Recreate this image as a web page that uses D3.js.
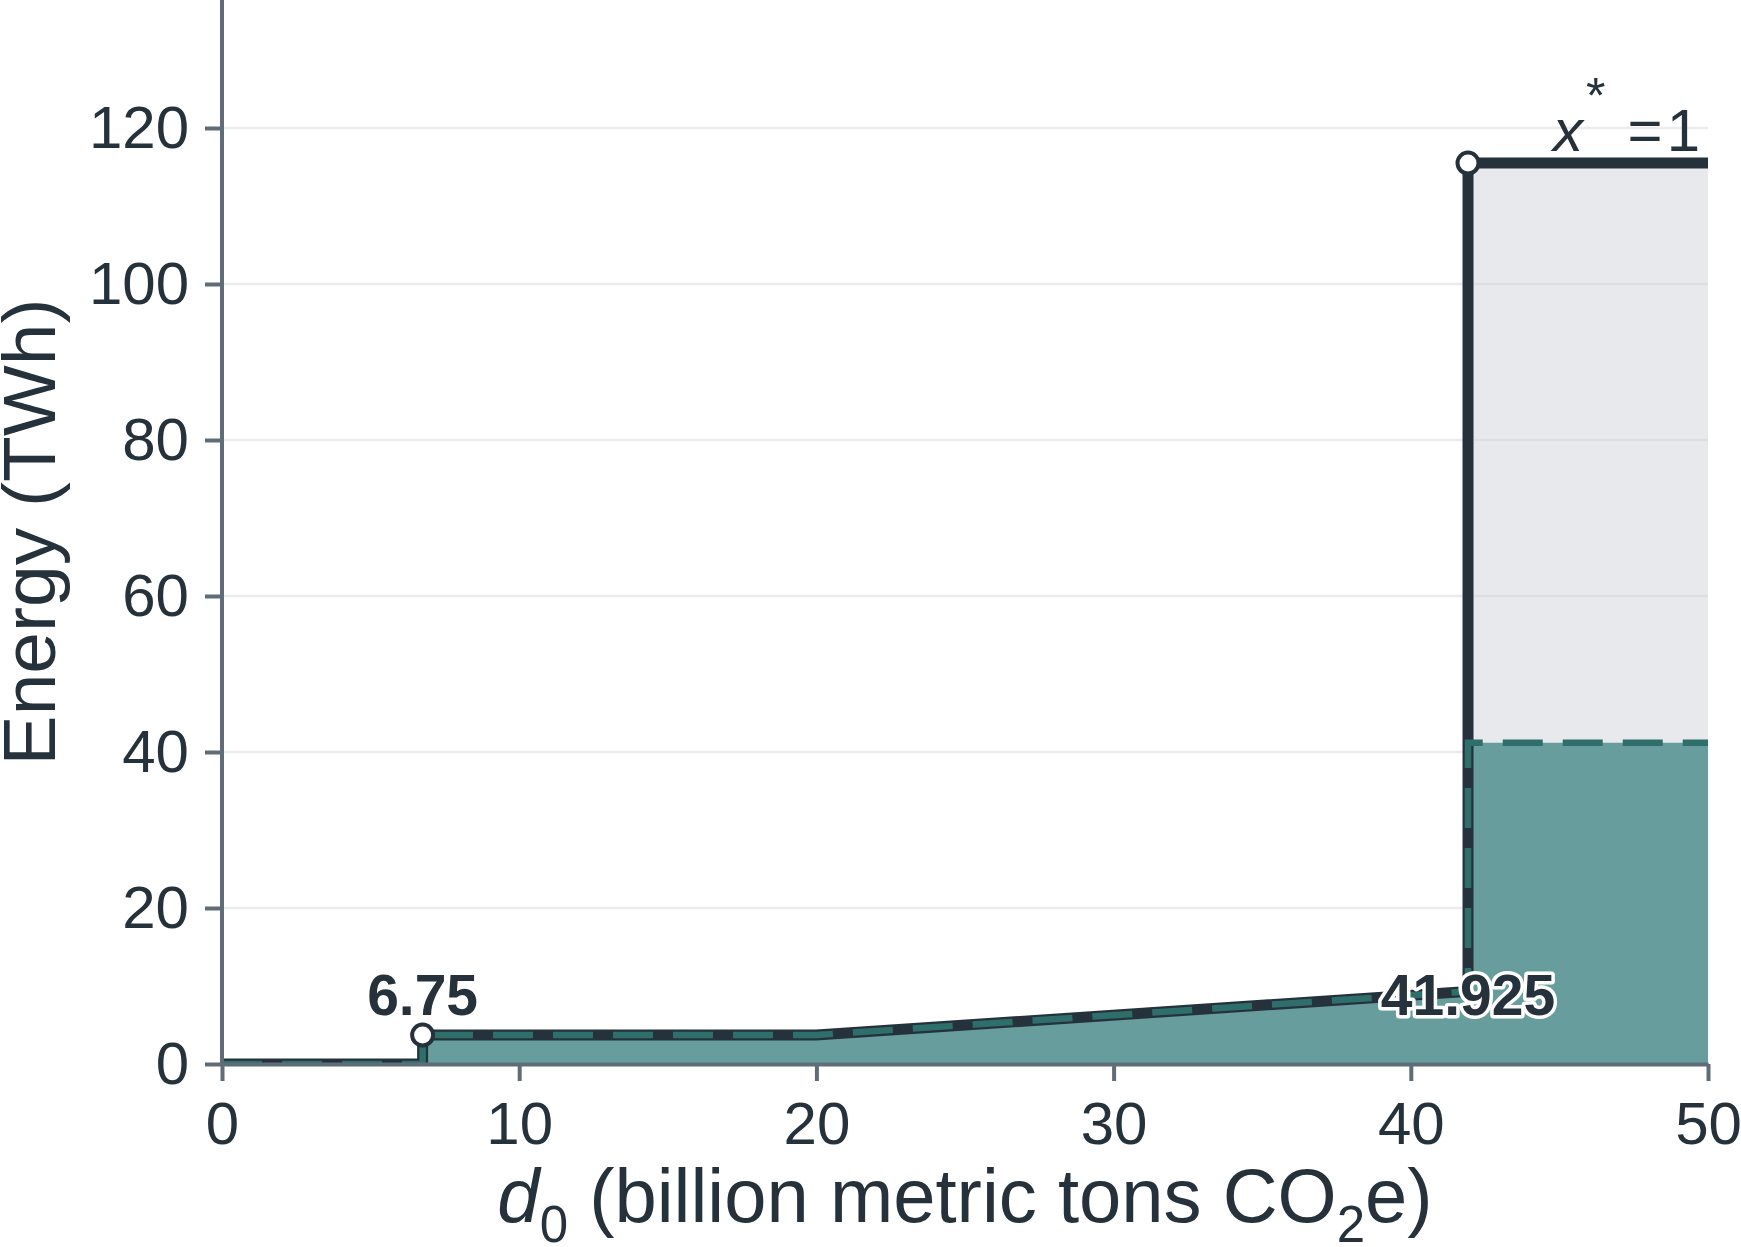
<!DOCTYPE html>
<html>
<head>
<meta charset="utf-8">
<script src="https://cdn.jsdelivr.net/npm/d3@7"></script>
<style>
  body { margin: 0; background: #fff; }
  svg { display: block; font-family: "Liberation Sans", Arial, sans-serif; }
</style>
</head>
<body>
<div id="chart"></div>
<script>
// Step curves
const xBreaks = [0, 6.75, 6.75, 20, 41.925, 41.925, 50];
const energyUpper = [0, 0, 3.72, 3.72, 9.3, 115.5, 115.5];   // solid dark line
const energyFilled = [0, 0, 3.72, 3.72, 9.3, 41.2, 41.2];    // dashed teal line

// Open markers and their labels
const markerX = [6.75, 41.925];
const markerY = [3.72, 115.5];
const labelText = ["6.75", "41.925"];
const labelY = [3.72, 3.72];

const xTicks = [0, 10, 20, 30, 40, 50];
const yTicks = [0, 20, 40, 60, 80, 100, 120];

const width = 1741, height = 1247;
const left = 222, right = 1708, bottom = 1064;

const dark = "#25323b";
const axisColor = "#5e6d77";

const svg = d3.select("#chart").append("svg")
    .attr("width", width)
    .attr("height", height);

const x = d3.scaleLinear().domain([0, 50]).range([left, right]);
const y = d3.scaleLinear().domain([0, 120]).range([bottom, bottom - 936]);

// clip to the plot area
svg.append("defs").append("clipPath")
    .attr("id", "plotClip")
    .append("rect")
    .attr("x", left).attr("y", 0)
    .attr("width", right - left).attr("height", bottom);

const rows = xBreaks.map((d, i) => ({ x: d, upper: energyUpper[i], filled: energyFilled[i] }));

// grid
svg.append("g")
    .selectAll("line")
    .data(yTicks.filter(d => d > 0))
    .join("line")
    .attr("x1", left).attr("x2", right)
    .attr("y1", d => y(d)).attr("y2", d => y(d))
    .attr("stroke", "#ebebeb")
    .attr("stroke-width", 2.5);

const plot = svg.append("g").attr("clip-path", "url(#plotClip)");

// grey region under the upper curve
plot.append("path")
    .datum(rows)
    .attr("fill", "#d2d4dc")
    .attr("fill-opacity", 0.5)
    .attr("d", d3.area().x(d => x(d.x)).y0(y(0)).y1(d => y(d.upper)));

// teal region
plot.append("path")
    .datum(rows)
    .attr("fill", "#679e9d")
    .attr("d", d3.area().x(d => x(d.x)).y0(y(0)).y1(d => y(d.filled)));

plot.append("path")
    .datum(rows)
    .attr("fill", "none")
    .attr("stroke", dark)
    .attr("stroke-width", 11)
    .attr("stroke-linejoin", "miter")
    .attr("d", d3.line().x(d => x(d.x)).y(d => y(d.upper)));

plot.append("path")
    .datum(rows)
    .attr("fill", "none")
    .attr("stroke", "#2e6e6b")
    .attr("stroke-width", 6.5)
    .attr("stroke-dasharray", "40,20")
    .attr("d", d3.line().x(d => x(d.x)).y(d => y(d.filled)));

// axes
const yAxis = svg.append("g")
    .attr("transform", `translate(${left},0)`)
    .call(d3.axisLeft(y).tickValues(yTicks).tickSize(17).tickSizeOuter(0).tickPadding(16));

const xAxis = svg.append("g")
    .attr("transform", `translate(0,${bottom})`)
    .call(d3.axisBottom(x).tickValues(xTicks).tickSize(17).tickSizeOuter(0).tickPadding(20));

[xAxis, yAxis].forEach(g => {
    g.select(".domain").attr("stroke", axisColor).attr("stroke-width", 4);
    g.selectAll(".tick line").attr("stroke", axisColor).attr("stroke-width", 4);
    g.selectAll(".tick text")
        .attr("fill", dark)
        .style("font-size", "60px")
        .style("font-family", "'Liberation Sans', Arial, sans-serif");
});
// extend the y axis line to the top of the figure
yAxis.select(".domain").attr("d", `M0,${bottom}V0`);

// markers
svg.append("g")
    .selectAll("circle")
    .data(markerX)
    .join("circle")
    .attr("cx", d => x(d))
    .attr("cy", (d, i) => y(markerY[i]))
    .attr("r", 10.5)
    .attr("fill", "#fff")
    .attr("stroke", dark)
    .attr("stroke-width", 4);

// point labels with white halo
svg.append("g")
    .selectAll("text")
    .data(labelText)
    .join("text")
    .attr("x", (d, i) => x(markerX[i]))
    .attr("y", (d, i) => y(labelY[i]) - 20)
    .attr("text-anchor", "middle")
    .attr("fill", dark)
    .attr("stroke", "#fff")
    .attr("stroke-width", 7)
    .attr("paint-order", "stroke")
    .attr("stroke-linejoin", "round")
    .style("font-size", "57px")
    .style("font-weight", "bold")
    .text(d => d);

// x* = 1 annotation above the upper line
const note = svg.append("text")
    .attr("x", x(50) - 8)
    .attr("y", y(115.5) - 12)
    .attr("text-anchor", "end")
    .attr("fill", dark)
    .style("font-size", "60px");
note.append("tspan").style("font-style", "italic").text("x");
note.append("tspan").attr("dx", 3).attr("dy", -38).style("font-size", "50px").text("*");
note.append("tspan").attr("dx", 22).attr("dy", 38).text("=");
note.append("tspan").attr("dx", 4).text("1");

// axis titles
const xTitle = svg.append("text")
    .attr("x", (left + right) / 2)
    .attr("y", 1222)
    .attr("text-anchor", "middle")
    .attr("fill", dark)
    .style("font-size", "76px");
xTitle.append("tspan").style("font-style", "italic").text("d");
xTitle.append("tspan").attr("dy", 20).style("font-size", "51px").text("0");
xTitle.append("tspan").attr("dy", -20).text(" (billion metric tons CO");
xTitle.append("tspan").attr("dy", 20).style("font-size", "51px").text("2");
xTitle.append("tspan").attr("dy", -20).text("e)");

svg.append("text")
    .attr("transform", `translate(55,${y(0) / 2}) rotate(-90)`)
    .attr("text-anchor", "middle")
    .attr("fill", dark)
    .style("font-size", "75px")
    .text("Energy (TWh)");
</script>
</body>
</html>
